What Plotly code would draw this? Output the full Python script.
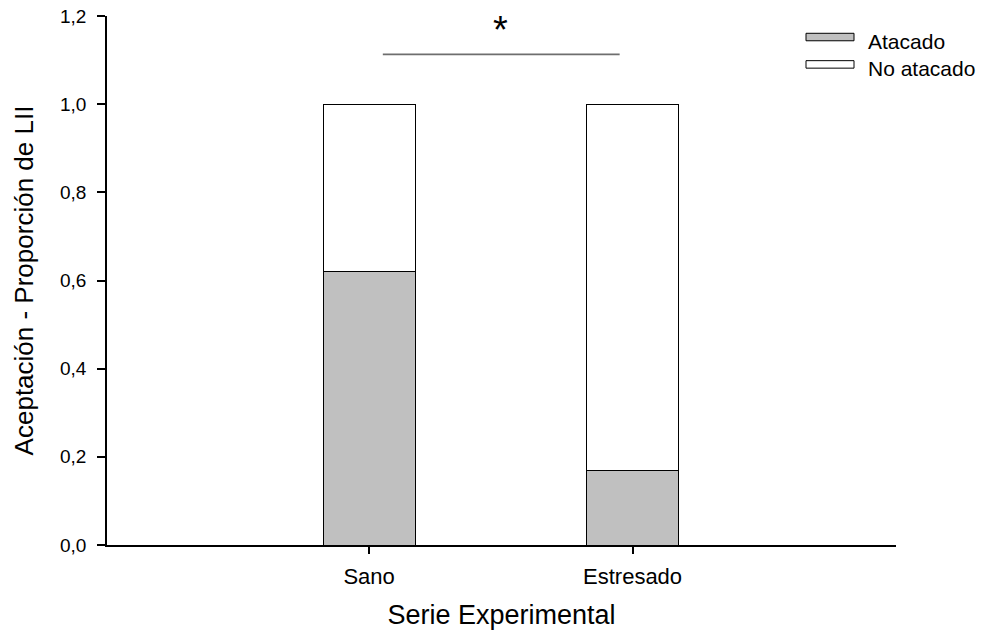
import plotly.graph_objects as go

categories = ["Sano", "Estresado"]
atacado = [0.62, 0.17]
no_atacado = [0.38, 0.83]
series_names = ["Atacado", "No atacado"]
y_ticks = [0.0, 0.2, 0.4, 0.6, 0.8, 1.0, 1.2]
sig_level = 1.113
sig_label = "*"

FONT = "Liberation Sans, Arial, sans-serif"
xpos = list(range(len(categories)))

# plot area in pixels (for the custom legend placement)
L, R, T, B = 107, 896, 16, 545.5
def px(x):
    return (x - L) / (R - L)
def py(y):
    return (B - y) / (B - T)

fig = go.Figure()
fig.add_trace(go.Bar(x=xpos, y=atacado, name=series_names[0], width=0.35,
                     marker=dict(color="#c0c0c0", line=dict(color="black", width=1)),
                     showlegend=False))
fig.add_trace(go.Bar(x=xpos, y=no_atacado, name=series_names[1], width=0.35,
                     marker=dict(color="white", line=dict(color="black", width=1)),
                     showlegend=False))

# significance line
fig.add_trace(go.Scatter(x=[xpos[0] + 0.052, xpos[1] - 0.049], y=[sig_level, sig_level],
                         mode="lines", line=dict(color="#6e6e6e", width=1.6),
                         showlegend=False, hoverinfo="skip"))
fig.add_annotation(x=(xpos[0] + xpos[1]) / 2, y=sig_level, yshift=24, text=sig_label,
                   showarrow=False, font=dict(family=FONT, size=38, color="black"),
                   yanchor="middle")

# custom legend
legend_fills = ["#c0c0c0", "white"]
box_tops = [33.3, 60.7]
for name, fill, top in zip(series_names, legend_fills, box_tops):
    fig.add_shape(type="rect", xref="paper", yref="paper",
                  x0=px(806), x1=px(854), y0=py(top + 7.5), y1=py(top),
                  line=dict(color="black", width=1), fillcolor=fill)
    fig.add_annotation(xref="paper", yref="paper", x=px(866), y=py(top + 8),
                       xanchor="left", yanchor="middle", text=name, showarrow=False,
                       font=dict(family=FONT, size=21, color="black"))

fig.update_layout(
    barmode="stack",
    width=981, height=636,
    margin=dict(l=L, r=981 - R, t=T, b=636 - B, autoexpand=False),
    paper_bgcolor="white", plot_bgcolor="white",
    separators=",.",
    font=dict(family=FONT, size=20, color="black"),
    showlegend=False,
)
fig.update_xaxes(
    range=[-0.995, 2.0], tickmode="array", tickvals=xpos, ticktext=categories,
    showline=True, linecolor="black", linewidth=1.5, ticks="outside", ticklen=7,
    tickcolor="black", tickwidth=1.5, showgrid=False, zeroline=False,
    tickfont=dict(size=22), automargin=False,
    title=dict(text="Serie Experimental", font=dict(size=27), standoff=17),
    ticklabelstandoff=4,
)
fig.update_yaxes(
    range=[0, 1.2], tickmode="array", tickvals=y_ticks, tickformat=".1f",
    showline=True, linecolor="black", linewidth=1.5, ticks="outside", ticklen=8,
    tickcolor="black", tickwidth=1.5, showgrid=False, zeroline=False,
    tickfont=dict(size=19), automargin=False,
    title=dict(text="Aceptación - Proporción de LII", font=dict(size=26), standoff=19),
    ticklabelstandoff=7,
)

fig.write_html("out.html")
